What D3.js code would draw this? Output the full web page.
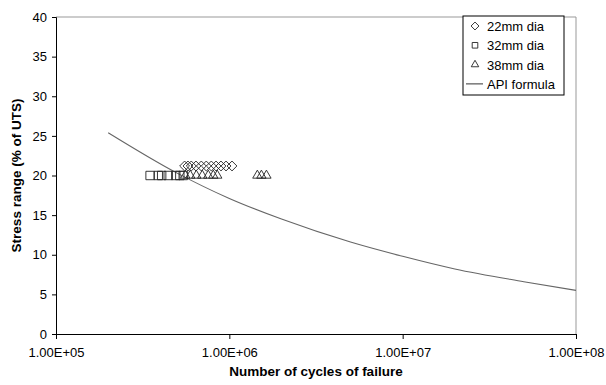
<!DOCTYPE html>
<html>
<head>
<meta charset="utf-8">
<script src="https://cdn.jsdelivr.net/npm/d3@7"></script>
<style>
  body { margin: 0; background: #fff; }
  svg { display: block; font-family: "Liberation Sans", Arial, sans-serif; }
  .axis path, .axis line { stroke: #000; }
  .axis text { font-size: 13px; fill: #000; }
</style>
</head>
<body>
<svg id="chart" width="606" height="385"></svg>
<script>
// cycles to failure, stress range in % of UTS
const dia22Cycles = [552000, 577000, 603000, 642000, 689000, 736000, 787000, 838000, 895000, 957000, 1036000];
const dia22Stress = [21.2, 21.2, 21.2, 21.2, 21.2, 21.2, 21.2, 21.2, 21.2, 21.2, 21.2];
const dia32Cycles = [349000, 389000, 407000, 444000, 491000, 518000, 542000];
const dia32Stress = [20, 20, 20, 20, 20, 20, 20];
const dia38Cycles = [557000, 595000, 645000, 698000, 756000, 808000, 852000, 1451000, 1531000, 1637000];
const dia38Stress = [20, 20, 20, 20, 20, 20, 20, 20, 20, 20];
const apiCycles = [2e5, 5e5, 1e6, 2e6, 5e6, 1e7, 2e7, 5e7, 1e8];
const apiStress = [25.4, 20.3, 17.1, 14.5, 11.6, 9.8, 8.2, 6.6, 5.5];
const xTicks = [1e5, 1e6, 1e7, 1e8];
const yTicks = [0, 5, 10, 15, 20, 25, 30, 35, 40];

const svg = d3.select('#chart');
const pLeft = 56, pRight = 576, pTop = 17, pBottom = 334;

const x = d3.scaleLog().domain([1e5, 1e8]).range([pLeft, pRight]);
const y = d3.scaleLinear().domain([0, 40]).range([pBottom, pTop]);

// plot area frame (top and right)
svg.append('path')
  .attr('d', `M${pLeft},${pTop}H${pRight}V${pBottom}`)
  .attr('fill', 'none')
  .attr('stroke', '#999')
  .attr('stroke-width', 1);

svg.append('g')
  .attr('class', 'axis')
  .attr('transform', `translate(0,${pBottom})`)
  .call(d3.axisBottom(x).tickValues(xTicks).tickSizeOuter(0).tickSize(5).tickPadding(9)
    .tickFormat(d => d3.format('.2e')(d).replace('e+', 'E+0').toUpperCase()));

svg.append('g')
  .attr('class', 'axis')
  .attr('transform', `translate(${pLeft},0)`)
  .call(d3.axisLeft(y).tickValues(yTicks).tickSizeOuter(0).tickSize(4).tickPadding(5));

// API curve
const line = d3.line()
  .x((d, i) => x(apiCycles[i]))
  .y(d => y(d))
  .curve(d3.curveMonotoneX);
svg.append('path')
  .datum(apiStress)
  .attr('d', line)
  .attr('fill', 'none')
  .attr('stroke', '#666')
  .attr('stroke-width', 1.1);

const mk = {
  diamond: d3.symbol().type(d3.symbolDiamond2).size(62),
  square: d3.symbol().type(d3.symbolSquare2).size(90),
  triangle: d3.symbol().type(d3.symbolTriangle2).size(62)
};

function drawSeries(cycles, stress, shape) {
  svg.append('g').selectAll('path')
    .data(cycles)
    .join('path')
    .attr('transform', (d, i) => `translate(${x(d)},${y(stress[i])})`)
    .attr('d', mk[shape])
    .attr('fill', 'none')
    .attr('stroke', '#222')
    .attr('stroke-width', 0.9);
}
drawSeries(dia32Cycles, dia32Stress, 'square');
drawSeries(dia38Cycles, dia38Stress, 'triangle');
drawSeries(dia22Cycles, dia22Stress, 'diamond');

// axis titles
svg.append('text')
  .attr('x', (pLeft + pRight) / 2)
  .attr('y', 376)
  .attr('text-anchor', 'middle')
  .attr('font-size', 13.5)
  .attr('font-weight', 'bold')
  .text('Number of cycles of failure');

svg.append('text')
  .attr('transform', `translate(21,${(pTop + pBottom) / 2}) rotate(-90)`)
  .attr('text-anchor', 'middle')
  .attr('font-size', 13.5)
  .attr('font-weight', 'bold')
  .text('Stress range (% of UTS)');

// legend
const legendItems = ['22mm dia', '32mm dia', '38mm dia', 'API formula'];
const legendShapes = ['diamond', 'square', 'triangle', 'line'];
const lg = svg.append('g').attr('transform', 'translate(463,16)');
lg.append('rect')
  .attr('width', 101).attr('height', 79)
  .attr('fill', '#fff').attr('stroke', '#000');
legendItems.forEach((t, i) => {
  const cy = 10 + i * 19.3;
  if (legendShapes[i] === 'line') {
    lg.append('line').attr('x1', 3).attr('x2', 20).attr('y1', cy).attr('y2', cy)
      .attr('stroke', '#333').attr('stroke-width', 1);
  } else {
    lg.append('path')
      .attr('transform', `translate(12,${cy})`)
      .attr('d', d3.symbol().type(
        legendShapes[i] === 'diamond' ? d3.symbolDiamond2 :
        legendShapes[i] === 'square' ? d3.symbolSquare2 : d3.symbolTriangle2).size(40))
      .attr('fill', 'none').attr('stroke', '#222').attr('stroke-width', 0.9);
  }
  lg.append('text')
    .attr('x', 24).attr('y', cy + 5)
    .attr('font-size', 13)
    .text(t);
});
</script>
</body>
</html>
